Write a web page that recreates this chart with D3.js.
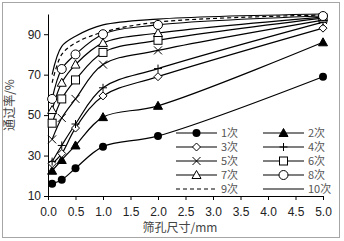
<!DOCTYPE html>
<html lang="en">
<head>
<meta charset="utf-8">
<script src="https://d3js.org/d3.v7.min.js"></script>
<style>
  body { margin: 0; background: #fff; }
  text { font-family: "Liberation Sans", "DejaVu Sans", sans-serif; }
  .cjk { font-family: "Noto Sans CJK SC", sans-serif; }
</style>
</head>
<body>
<script>
// sieve sizes (mm) and passing rate (%) for each run
const sizes = [0.075, 0.25, 0.5, 1.0, 2.0, 5.0];
const names = ["1次", "2次", "3次", "4次", "5次", "6次", "7次", "8次", "9次", "10次"];
const run1 = [16, 18, 23.7, 34.4, 39.7, 69];
const run2 = [22.5, 27.8, 35, 49, 54.6, 86];
const run3 = [26, 31, 43.6, 59.5, 69, 93];
const run4 = [27, 35, 45.6, 63.5, 73, 96];
const run5 = [38, 48.6, 58, 75, 82, 97];
const run6 = [46, 58, 67.4, 81, 87, 98];
const run7 = [52.5, 66, 75, 85.7, 90.6, 98.5];
const run8 = [58, 72.8, 80, 90, 94.6, 99];
const run9 = [66, 80, 85.7, 91, 96, 99.5];
const run10 = [70, 84, 89, 94.6, 97.5, 100];
const xTicks = [0, 0.5, 1, 1.5, 2, 2.5, 3, 3.5, 4, 4.5, 5];
const yTicks = [10, 30, 50, 70, 90];

const runs = [run1, run2, run3, run4, run5, run6, run7, run8, run9, run10];
const markers = ["dotFill", "triFill", "diamond", "plus", "cross", "square", "tri", "dot", "none", "none"];

const W = 344, H = 241;
const svg = d3.select("body").append("svg").attr("width", W).attr("height", H);

// outer frame
svg.append("rect").attr("x", 2.5).attr("y", 2.5).attr("width", 337).attr("height", 235)
  .attr("fill", "#fff").attr("stroke", "#a6a6a6").attr("stroke-width", 1);

const x = d3.scaleLinear().domain([0, 5]).range([48, 323]);
const y = d3.scaleLinear().domain([10, 100]).range([196, 14]);

svg.append("g").attr("transform", "translate(0,196)")
  .call(d3.axisBottom(x).tickValues(xTicks).tickFormat(d3.format(".1f")).tickSize(4).tickSizeOuter(0))
  .call(g => g.selectAll("text").attr("font-size", 12).attr("fill", "#222").attr("dy", "1.1em"))
  .call(g => g.selectAll("line,path").attr("stroke", "#000"));

svg.append("g").attr("transform", "translate(48,0)")
  .call(d3.axisLeft(y).tickValues(yTicks).tickSize(4).tickSizeOuter(0))
  .call(g => g.selectAll("text").attr("font-size", 12).attr("fill", "#222"))
  .call(g => g.selectAll("line,path").attr("stroke", "#000"));

// axis titles
svg.append("text").attr("class", "cjk").attr("x", 180).attr("y", 232)
  .attr("text-anchor", "middle").attr("font-size", 12).attr("fill", "#444").text("筛孔尺寸/mm");
svg.append("text").attr("class", "cjk").attr("transform", "translate(14,105) rotate(-90)")
  .attr("text-anchor", "middle").attr("font-size", 12).attr("fill", "#444").text("通过率/%");

const line = d3.line().x(d => x(d[0])).y(d => y(d[1])).curve(d3.curveCatmullRom.alpha(0.5));

function drawMarker(g, type, cx, cy) {
  const s = 4;
  if (type === "dotFill") g.append("circle").attr("cx", cx).attr("cy", cy).attr("r", 4).attr("fill", "#000");
  else if (type === "dot") g.append("circle").attr("cx", cx).attr("cy", cy).attr("r", 4.5).attr("fill", "#fff").attr("stroke", "#000");
  else if (type === "triFill" || type === "tri")
    g.append("path").attr("d", `M${cx},${cy - 4.5}L${cx + 4.5},${cy + 3.5}L${cx - 4.5},${cy + 3.5}Z`)
      .attr("fill", type === "triFill" ? "#000" : "#fff").attr("stroke", "#000");
  else if (type === "diamond")
    g.append("path").attr("d", `M${cx},${cy - s}L${cx + s},${cy}L${cx},${cy + s}L${cx - s},${cy}Z`)
      .attr("fill", "#fff").attr("stroke", "#000");
  else if (type === "square")
    g.append("rect").attr("x", cx - 4).attr("y", cy - 4).attr("width", 8).attr("height", 8)
      .attr("fill", "#fff").attr("stroke", "#000");
  else if (type === "plus")
    g.append("path").attr("d", `M${cx - s},${cy}H${cx + s}M${cx},${cy - s}V${cy + s}`).attr("stroke", "#000");
  else if (type === "cross")
    g.append("path").attr("d", `M${cx - s},${cy - s}L${cx + s},${cy + s}M${cx + s},${cy - s}L${cx - s},${cy + s}`).attr("stroke", "#000");
}

// series lines, then markers on top
const plot = svg.append("g");
runs.forEach((vals, i) => {
  const pts = sizes.map((s, j) => [s, vals[j]]);
  plot.append("path").datum(pts).attr("d", line).attr("fill", "none")
    .attr("stroke", "#000").attr("stroke-width", 1.2)
    .attr("stroke-dasharray", i === 8 ? "4,3" : null);
});
runs.forEach((vals, i) => {
  const g = plot.append("g");
  sizes.forEach((s, j) => drawMarker(g, markers[i], x(s), y(vals[j])));
});

// legend
const legRows = [133, 147, 161, 175, 189];
names.forEach((n, i) => {
  const col = i % 2, row = Math.floor(i / 2);
  const x0 = col === 0 ? 176 : 263, yy = legRows[row];
  const g = svg.append("g");
  g.append("line").attr("x1", x0).attr("x2", x0 + 41).attr("y1", yy).attr("y2", yy)
    .attr("stroke", "#000").attr("stroke-width", 1.2).attr("stroke-dasharray", i === 8 ? "4,3" : null);
  drawMarker(g, markers[i], x0 + 20.5, yy);
  g.append("text").attr("class", "cjk").attr("x", x0 + 45).attr("y", yy + 4)
    .attr("font-size", 11).attr("fill", "#555").text(n);
});
</script>
</body>
</html>
